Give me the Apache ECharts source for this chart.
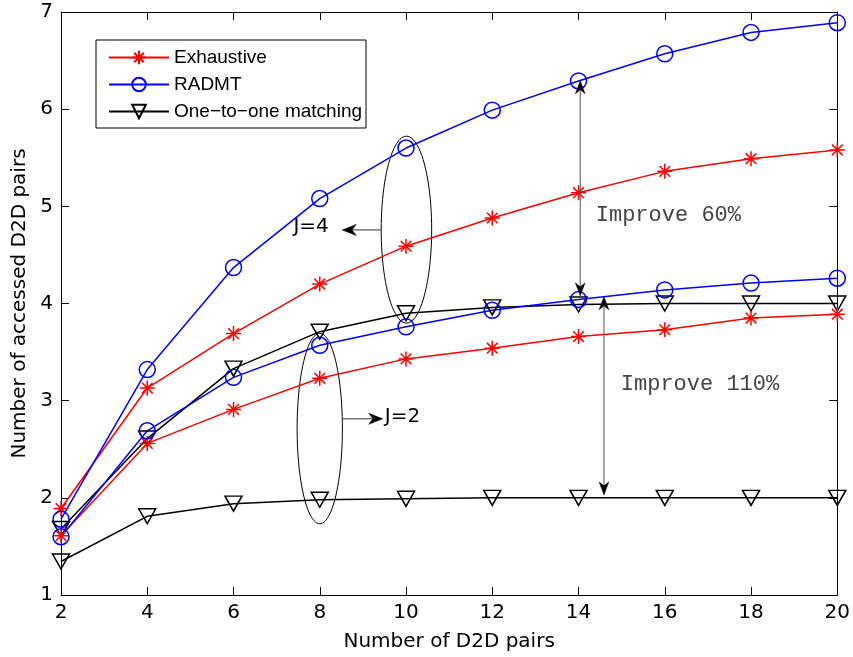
<!DOCTYPE html>
<html>
<head>
<meta charset="utf-8">
<script src="https://cdn.jsdelivr.net/npm/echarts@6/dist/echarts.min.js"></script>
<style>
  html, body { margin: 0; padding: 0; background: #fff; }
  #chart { width: 853px; height: 657px; }
</style>
</head>
<body>
<div id="chart"></div>
<script>
// Number of D2D pairs (x axis)
const pairCounts = [2, 4, 6, 8, 10, 12, 14, 16, 18, 20];

// Number of accessed D2D pairs, J = 4
const exhaustiveJ4 = [1.89, 3.13, 3.69, 4.20, 4.59, 4.88, 5.14, 5.36, 5.49, 5.58];
const radmtJ4      = [1.78, 3.32, 4.37, 5.08, 5.60, 5.99, 6.29, 6.57, 6.79, 6.89];
const oneToOneJ4   = [1.68, 2.61, 3.33, 3.71, 3.90, 3.96, 3.99, 4.00, 4.00, 4.00];

// Number of accessed D2D pairs, J = 2
const exhaustiveJ2 = [1.61, 2.56, 2.91, 3.23, 3.43, 3.54, 3.66, 3.73, 3.85, 3.89];
const radmtJ2      = [1.60, 2.69, 3.24, 3.57, 3.76, 3.93, 4.04, 4.14, 4.21, 4.26];
const oneToOneJ2   = [1.345, 1.81, 1.94, 1.98, 1.99, 2.00, 2.00, 2.00, 2.00, 2.00];

// Axis ranges
const xRange = { min: 2, max: 20, step: 2 };
const yRange = { min: 1, max: 7, step: 1 };

// Series names
const NAME_EX = 'Exhaustive';
const NAME_RADMT = 'RADMT';
const NAME_O2O = 'One\u2212to\u2212one matching';

// Annotations in data units
// ellipses: [centerX, centerY, radiusX, radiusY]
const groupEllipses = [[10.01, 4.76, 0.585, 0.962], [8.0, 2.713, 0.525, 0.98]];
// pointer arrows: [fromX, toX, y]
const groupPointers = [[9.424, 8.521, 4.757], [8.521, 9.46, 2.813]];
// double arrows: [x, topY, bottomY]
const gapArrows = [[14.04, 6.293, 4.078], [14.59, 4.07, 2.03]];
// text notes: [x, y] with matching strings
const notePositions = [[7.39, 4.785], [9.507, 2.836], [14.40, 4.91], [14.98, 3.173]];
const noteTexts = ['J=4', 'J=2', 'Improve 60%', 'Improve 110%'];
const noteFonts = ['sans', 'sans', 'mono', 'mono'];

const pair = (ys) => pairCounts.map((x, i) => [x, ys[i]]);

const STAR = 'path://M0,-10L0,10M-10,0L10,0M-7.1,-7.1L7.1,7.1M-7.1,7.1L7.1,-7.1';
const TRI_DOWN = 'path://M-10,-8L10,-8L0,9Z';

function lineSeries(name, data, color, symbol, size) {
  return {
    type: 'line',
    name: name,
    data: data,
    symbol: symbol,
    symbolSize: size,
    showAllSymbol: true,
    lineStyle: { color: color, width: 1.5 },
    itemStyle: { color: 'rgba(0,0,0,0)', borderColor: color, borderWidth: 1.5 },
    emphasis: { disabled: true },
    z: 3
  };
}

function arrowHead(tip, dir, len, half) {
  const bx = tip[0] - dir[0] * len, by = tip[1] - dir[1] * len;
  const px = -dir[1], py = dir[0];
  const nx = tip[0] - dir[0] * len * 0.7, ny = tip[1] - dir[1] * len * 0.7;
  return {
    type: 'polygon',
    shape: { points: [tip, [bx + px * half, by + py * half], [nx, ny], [bx - px * half, by - py * half]] },
    style: { fill: '#000', stroke: '#000', lineWidth: 0.5 }
  };
}

const axisFont = 'DejaVu Sans';

const option = {
  animation: false,
  backgroundColor: '#fff',
  grid: { left: 61, right: 14, top: 12, bottom: 62 },
  legend: {
    orient: 'vertical',
    left: 96,
    top: 40,
    padding: [8, 4, 7, 12],
    itemGap: 8,
    itemWidth: 60,
    itemHeight: 17,
    backgroundColor: '#fff',
    borderColor: '#000',
    borderWidth: 1,
    borderRadius: 0,
    data: [NAME_EX, NAME_RADMT, NAME_O2O],
    textStyle: { fontFamily: 'Liberation Sans', fontSize: 19, color: '#000' }
  },
  xAxis: [{
    type: 'value',
    min: xRange.min, max: xRange.max, interval: xRange.step,
    name: 'Number of D2D pairs',
    nameLocation: 'middle',
    nameGap: 37,
    nameTextStyle: { fontFamily: axisFont, fontSize: 20, color: '#000' },
    axisLine: { lineStyle: { color: '#000', width: 1 } },
    axisTick: { inside: true, length: 8, lineStyle: { color: '#000' } },
    axisLabel: { fontFamily: axisFont, fontSize: 20, color: '#000', margin: 8 },
    splitLine: { show: false }
  }, {
    type: 'value', position: 'top',
    min: xRange.min, max: xRange.max, interval: xRange.step,
    axisLine: { onZero: false, lineStyle: { color: '#000', width: 1 } },
    axisTick: { inside: true, length: 8, lineStyle: { color: '#000' } },
    axisLabel: { show: false },
    splitLine: { show: false }
  }],
  yAxis: [{
    type: 'value',
    min: yRange.min, max: yRange.max, interval: yRange.step,
    name: 'Number of accessed D2D pairs',
    nameLocation: 'middle',
    nameGap: 23,
    nameTextStyle: { fontFamily: axisFont, fontSize: 20, color: '#000' },
    axisLine: { show: true, lineStyle: { color: '#000', width: 1 } },
    axisTick: { show: true, inside: true, length: 8, lineStyle: { color: '#000' } },
    axisLabel: { fontFamily: axisFont, fontSize: 20, color: '#000', margin: 8 },
    splitLine: { show: false }
  }, {
    type: 'value', position: 'right',
    min: yRange.min, max: yRange.max, interval: yRange.step,
    axisLine: { show: true, onZero: false, lineStyle: { color: '#000', width: 1 } },
    axisTick: { show: true, inside: true, length: 8, lineStyle: { color: '#000' } },
    axisLabel: { show: false },
    splitLine: { show: false }
  }],
  series: [
    lineSeries(NAME_EX, pair(exhaustiveJ4), '#ff0000', STAR, 15),
    lineSeries(NAME_RADMT, pair(radmtJ4), '#0000ff', 'circle', 16),
    lineSeries(NAME_O2O, pair(oneToOneJ4), '#000000', TRI_DOWN, [17, 15]),
    lineSeries(NAME_EX, pair(exhaustiveJ2), '#ff0000', STAR, 15),
    lineSeries(NAME_RADMT, pair(radmtJ2), '#0000ff', 'circle', 16),
    lineSeries(NAME_O2O, pair(oneToOneJ2), '#000000', TRI_DOWN, [17, 15]),
    {
      // group ellipses
      type: 'custom',
      name: 'groups',
      data: groupEllipses,
      clip: false,
      silent: true,
      z: 2,
      renderItem: function (params, api) {
        const c = api.coord([api.value(0), api.value(1)]);
        const s = api.size([api.value(2), api.value(3)]);
        const pts = [];
        for (let i = 0; i <= 96; i++) {
          const a = i / 96 * Math.PI * 2;
          pts.push([c[0] + s[0] * Math.cos(a), c[1] + s[1] * Math.sin(a)]);
        }
        return { type: 'polygon', shape: { points: pts }, style: { fill: 'none', stroke: '#000', lineWidth: 1 } };
      }
    },
    {
      // pointers from the ellipses to their labels
      type: 'custom',
      name: 'pointers',
      data: groupPointers,
      clip: false,
      silent: true,
      z: 4,
      renderItem: function (params, api) {
        const a = api.coord([api.value(0), api.value(2)]);
        const b = api.coord([api.value(1), api.value(2)]);
        const d = b[0] > a[0] ? 1 : -1;
        return {
          type: 'group',
          children: [
            { type: 'line', shape: { x1: a[0], y1: a[1], x2: b[0] - d * 8, y2: b[1] }, style: { stroke: '#333', lineWidth: 1 } },
            arrowHead(b, [d, 0], 14, 5.5)
          ]
        };
      }
    },
    {
      // vertical double arrows marking the gaps
      type: 'custom',
      name: 'gaps',
      data: gapArrows,
      clip: false,
      silent: true,
      z: 4,
      renderItem: function (params, api) {
        const t = api.coord([api.value(0), api.value(1)]);
        const b = api.coord([api.value(0), api.value(2)]);
        return {
          type: 'group',
          children: [
            { type: 'line', shape: { x1: t[0], y1: t[1] + 8, x2: b[0], y2: b[1] - 8 }, style: { stroke: '#555', lineWidth: 1 } },
            arrowHead(t, [0, -1], 13, 4.8),
            arrowHead(b, [0, 1], 13, 4.8)
          ]
        };
      }
    },
    {
      // text notes
      type: 'custom',
      name: 'notes',
      data: notePositions,
      clip: false,
      silent: true,
      z: 5,
      renderItem: function (params, api) {
        const p = api.coord([api.value(0), api.value(1)]);
        const i = params.dataIndex;
        const mono = noteFonts[i] === 'mono';
        return {
          type: 'text',
          x: p[0],
          y: p[1],
          style: {
            text: noteTexts[i],
            fill: mono ? '#444' : '#000',
            font: mono ? '22px "Liberation Mono"' : '20px "DejaVu Sans"',
            align: 'left',
            verticalAlign: 'middle'
          }
        };
      }
    }
  ]
};

const chart = echarts.init(document.getElementById('chart'), null, { renderer: 'canvas' });
chart.setOption(option);
</script>
</body>
</html>
